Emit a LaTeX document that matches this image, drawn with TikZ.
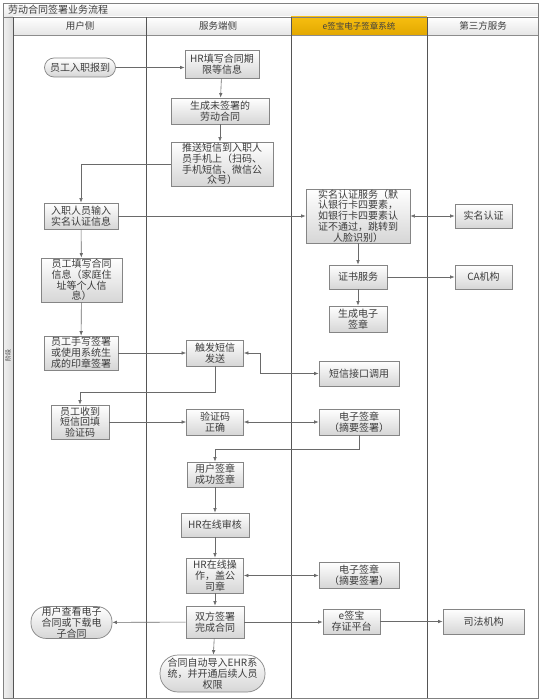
\documentclass[tikz,border=0pt]{standalone}
\usepackage{fontspec}
\setmainfont{Noto Sans CJK SC}
\usetikzlibrary{arrows.meta}
\definecolor{boxline}{HTML}{858585}
\definecolor{boxbot}{HTML}{D6D6D6}
\definecolor{txt}{HTML}{3C3C3C}
\definecolor{lineclr}{HTML}{6A6A6A}
\definecolor{lanec}{HTML}{555555}
\definecolor{goldtop}{HTML}{F6BE10}
\definecolor{goldbot}{HTML}{E3A800}
\begin{document}
\begin{tikzpicture}[x=1pt,y=-1pt,
  box/.style={draw=boxline, line width=0.7pt, top color=white, bottom color=boxbot,
    text=txt, font=\fontsize{10}{10.8}\selectfont, align=center, inner sep=0.5pt},
  arr/.style={draw=lineclr, line width=0.6pt, -{Latex[length=4.5pt,width=3.5pt]}},
  darr/.style={draw=lineclr, line width=0.6pt, {Latex[length=4.5pt,width=3.5pt]}-{Latex[length=4.5pt,width=3.5pt]}},
  lanehead/.style={text=txt, font=\fontsize{9.5}{10}\selectfont},
  laneline/.style={draw=lanec, line width=0.8pt}]
\useasboundingbox (0,0) rectangle (541,700);
\fill[white] (0,0) rectangle (541,700);
% title bar
\shade[top color=white, bottom color=black!8] (3,3) rectangle (538,17);
\node[anchor=west, text=txt, font=\fontsize{10}{11}\selectfont, inner sep=0pt] (title) at (8,10) {劳动合同签署业务流程};
% phase strip
\shade[left color=black!6, right color=black!14] (3,17) rectangle (13,698);
\node[rotate=90, text=txt, font=\fontsize{6}{7}\selectfont, inner sep=0pt] (phase) at (8,355) {阶段};
% lane headers
\shade[top color=white, bottom color=black!10] (13,17) rectangle (146,35);
\shade[top color=white, bottom color=black!10] (146,17) rectangle (291,35);
\shade[top color=goldtop, bottom color=goldbot] (291,17) rectangle (427,35);
\shade[top color=white, bottom color=black!10] (427,17) rectangle (538,35);
\node[lanehead] (h1) at (80,26) {用户侧};
\node[lanehead] (h2) at (218,26) {服务端侧};
\node[lanehead, font=\fontsize{8.5}{10}\selectfont, text=black!75] (h3) at (359,26) {e签宝电子签章系统};
\node[lanehead] (h4) at (483,26) {第三方服务};
% frame lines
\draw[draw=black!50, line width=0.8pt] (3,3) rectangle (538,698);
\draw[draw=black!50, line width=0.6pt] (3,17) -- (538,17);
\draw[draw=black!45, line width=0.6pt] (13,35) -- (538,35);
\draw[laneline] (13,17) -- (13,698);
\draw[laneline] (146,17) -- (146,698);
\draw[laneline] (291,17) -- (291,698);
\draw[laneline] (427,17) -- (427,698);

% user lane
\node[box, minimum width=71pt, minimum height=19pt, rounded corners=9.5pt] (start) at (80,67.5) {员工入职报到};
\node[box, minimum width=74pt, minimum height=26pt] (entry) at (81,216) {入职人员输入\\实名认证信息};
\node[box, minimum width=81pt, minimum height=44pt] (fill) at (81.5,280) {员工填写合同\\信息（家庭住\\址等个人信\\息）};
\node[box, minimum width=74pt, minimum height=34pt] (hand) at (81,353) {员工手写签署\\或使用系统生\\成的印章签署};
\node[box, minimum width=58pt, minimum height=34pt] (recv) at (80,422) {员工收到\\短信回填\\验证码};
\node[box, minimum width=81pt, minimum height=31pt, rounded corners=15pt] (view) at (71.5,622.5) {用户查看电子\\合同或下载电\\子合同};

% service lane
\node[box, minimum width=74pt, minimum height=28pt] (hr) at (222,64) {HR填写合同期\\限等信息};
\node[box, minimum width=98pt, minimum height=26pt] (gen) at (220,111) {生成未签署的\\劳动合同};
\node[box, minimum width=102pt, minimum height=44pt] (push) at (222,164) {推送短信到入职人\\员手机上（扫码、\\手机短信、微信公\\众号）};
\node[box, minimum width=57pt, minimum height=26pt] (sms) at (215,353) {触发短信\\发送};
\node[box, minimum width=57pt, minimum height=26pt] (code) at (215,422) {验证码\\正确};
\node[box, minimum width=56pt, minimum height=25pt] (usign) at (215,474.5) {用户签章\\成功签章};
\node[box, minimum width=68pt, minimum height=24pt] (audit) at (215,525) {HR在线审核};
\node[box, minimum width=57pt, minimum height=35pt] (seal) at (215,575.5) {HR在线操\\作，盖公\\司章};
\node[box, minimum width=58pt, minimum height=32pt] (done) at (215,622) {双方签署\\完成合同};
\node[box, minimum width=105pt, minimum height=37pt, rounded corners=18pt] (ehr) at (212.5,673.5) {合同自动导入EHR系\\统，并开通后续人员\\权限};

% e-sign lane
\node[box, minimum width=104pt, minimum height=54pt] (auth) at (358,216) {实名认证服务（默\\认银行卡四要素，\\如银行卡四要素认\\证不通过，跳转到\\人脸识别）};
\node[box, minimum width=58pt, minimum height=24pt] (cert) at (358,277) {证书服务};
\node[box, minimum width=58pt, minimum height=26pt] (esgen) at (358,319) {生成电子\\签章};
\node[box, minimum width=80pt, minimum height=25pt] (smsapi) at (359,373.5) {短信接口调用};
\node[box, minimum width=80pt, minimum height=26pt] (esig1) at (359,422) {电子签章\\（摘要签署）};
\node[box, minimum width=80pt, minimum height=26pt] (esig2) at (359,575) {电子签章\\（摘要签署）};
\node[box, minimum width=57pt, minimum height=25pt] (store) at (351.5,621.5) {e签宝\\存证平台};

% third-party lane
\node[box, minimum width=57pt, minimum height=24pt] (real) at (483.5,216) {实名认证};
\node[box, minimum width=57pt, minimum height=24pt] (ca) at (483.5,277) {CA机构};
\node[box, minimum width=81pt, minimum height=25pt] (court) at (483.5,621.5) {司法机构};

% connectors
\draw[arr] (start) -- (start -| hr.west);
\draw[arr] (hr) -- (gen);
\draw[arr] (gen) -- (gen |- push.north);
\draw[arr] (push.west) -| (entry.north);
\draw[arr] (entry) -- (auth);
\draw[arr] (entry) -- (fill);
\draw[arr] (fill) -- (hand);
\draw[darr] (auth) -- (real);
\draw[arr] (auth) -- (cert);
\draw[arr] (cert) -- (ca);
\draw[arr] (cert) -- (esgen);
\draw[arr] (hand) -- (sms);
\draw[darr] (sms.east) -- ++(16,0) |- (smsapi.west);
\draw[arr] (sms.south) -- ++(0,26) -| (recv.north);
\draw[arr] (recv) -- (code);
\draw[darr] (code) -- (esig1);
\draw[arr] (esig1.south) -- ++(0,14) -| (usign.north);
\draw[arr] (usign) -- (audit);
\draw[arr] (audit) -- (seal);
\draw[darr] (seal) -- (seal -| esig2.west);
\draw[arr] (seal) -- (done);
\draw[arr] (done) -- (view);
\draw[arr] (done) -- (done -| store.west);
\draw[arr] (store) -- (court);
\draw[arr] (done) -- (ehr);
\end{tikzpicture}
\end{document}
